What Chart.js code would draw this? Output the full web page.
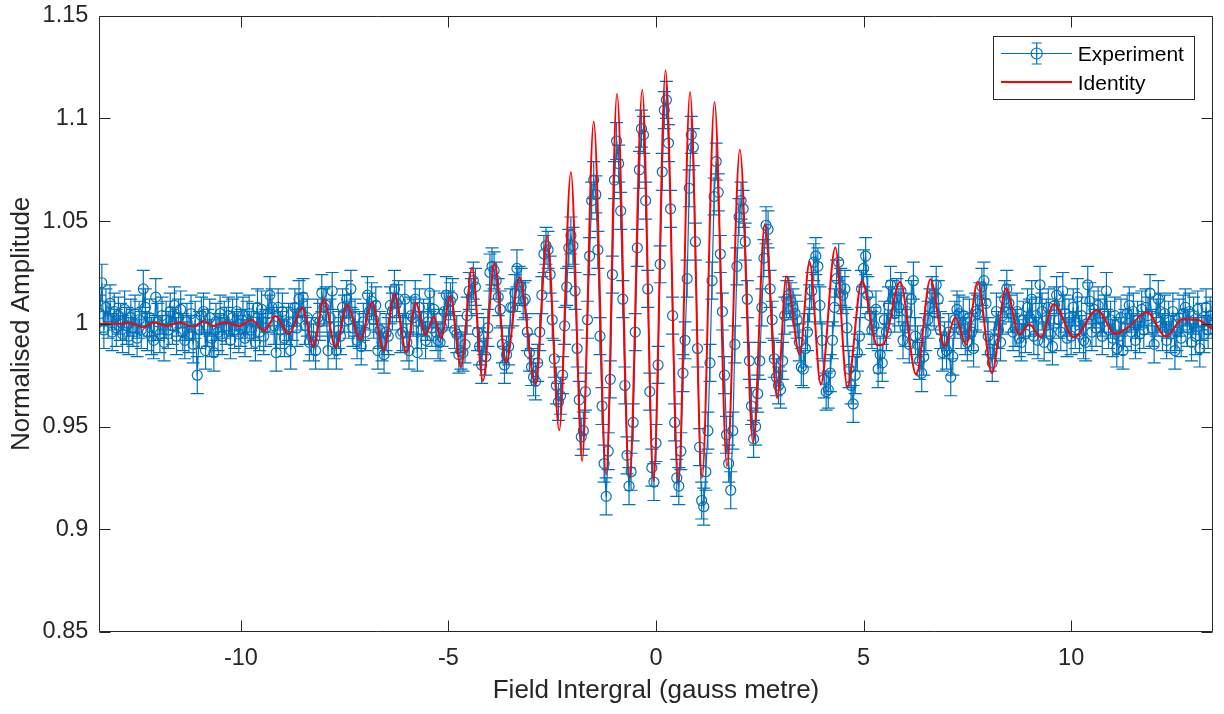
<!DOCTYPE html>
<html><head><meta charset="utf-8">
<script src="https://cdn.jsdelivr.net/npm/chart.js"></script>
<style>html,body{margin:0;padding:0;background:#fff;}canvas{display:block;}</style>
</head><body>
<canvas id="c" width="1224" height="714"></canvas>
<script>
// ---------------- DATA ----------------
const xTicks = [-10, -5, 0, 5, 10];
const xTickLabels = ['-10', '-5', '0', '5', '10'];
const yTicks = [0.85, 0.9, 0.95, 1, 1.05, 1.1, 1.15];
const yTickLabels = ['0.85', '0.9', '0.95', '1', '1.05', '1.1', '1.15'];
const xLimits = [-13.41, 13.41];
const yLimits = [0.85, 1.15];
const seriesNames = ['Experiment', 'Identity'];
const axisTitles = ['Field Intergral (gauss metre)', 'Normalised Amplitude'];
const expErr = 0.009;

const expX = [
-13.4,-13.35,-13.3,-13.25,-13.2,-13.15,-13.1,-13.05,-13,-12.95,
-12.9,-12.85,-12.8,-12.75,-12.7,-12.65,-12.6,-12.55,-12.5,-12.45,
-12.4,-12.35,-12.3,-12.25,-12.2,-12.15,-12.1,-12.05,-12,-11.95,
-11.9,-11.85,-11.8,-11.75,-11.7,-11.65,-11.6,-11.55,-11.5,-11.45,
-11.4,-11.35,-11.3,-11.25,-11.2,-11.15,-11.1,-11.05,-11,-10.95,
-10.9,-10.85,-10.8,-10.75,-10.7,-10.65,-10.6,-10.55,-10.5,-10.45,
-10.4,-10.35,-10.3,-10.25,-10.2,-10.15,-10.1,-10.05,-10,-9.95,
-9.9,-9.85,-9.8,-9.75,-9.7,-9.65,-9.6,-9.55,-9.5,-9.45,
-9.4,-9.35,-9.3,-9.25,-9.2,-9.15,-9.1,-9.05,-9,-8.95,
-8.9,-8.85,-8.8,-8.75,-8.7,-8.65,-8.6,-8.55,-8.5,-8.45,
-8.4,-8.35,-8.3,-8.25,-8.2,-8.15,-8.1,-8.05,-8,-7.95,
-7.9,-7.85,-7.8,-7.75,-7.7,-7.65,-7.6,-7.55,-7.5,-7.45,
-7.4,-7.35,-7.3,-7.25,-7.2,-7.15,-7.1,-7.05,-7,-6.95,
-6.9,-6.85,-6.8,-6.75,-6.7,-6.65,-6.6,-6.55,-6.5,-6.45,
-6.4,-6.35,-6.3,-6.25,-6.2,-6.15,-6.1,-6.05,-6,-5.95,
-5.9,-5.85,-5.8,-5.75,-5.7,-5.65,-5.6,-5.55,-5.5,-5.45,
-5.4,-5.35,-5.3,-5.25,-5.2,-5.15,-5.1,-5.05,-5,-4.95,
-4.9,-4.85,-4.8,-4.75,-4.7,-4.65,-4.6,-4.55,-4.5,-4.45,
-4.4,-4.35,-4.3,-4.25,-4.2,-4.15,-4.1,-4.05,-4,-3.95,
-3.9,-3.85,-3.8,-3.75,-3.7,-3.65,-3.6,-3.55,-3.5,-3.45,
-3.4,-3.35,-3.3,-3.25,-3.2,-3.15,-3.1,-3.05,-3,-2.95,
-2.9,-2.85,-2.8,-2.75,-2.7,-2.65,-2.6,-2.55,-2.5,-2.45,
-2.4,-2.35,-2.3,-2.25,-2.2,-2.15,-2.1,-2.05,-2,-1.95,
-1.9,-1.85,-1.8,-1.75,-1.7,-1.65,-1.6,-1.55,-1.5,-1.45,
-1.4,-1.35,-1.3,-1.25,-1.2,-1.15,-1.1,-1.05,-1,-0.95,
-0.9,-0.85,-0.8,-0.75,-0.7,-0.65,-0.6,-0.55,-0.5,-0.45,
-0.4,-0.35,-0.3,-0.25,-0.2,-0.15,-0.1,-0.05,0,0.05,
0.1,0.15,0.2,0.25,0.3,0.35,0.4,0.45,0.5,0.55,
0.6,0.65,0.7,0.75,0.8,0.85,0.9,0.95,1,1.05,
1.1,1.15,1.2,1.25,1.3,1.35,1.4,1.45,1.5,1.55,
1.6,1.65,1.7,1.75,1.8,1.85,1.9,1.95,2,2.05,
2.1,2.15,2.2,2.25,2.3,2.35,2.4,2.45,2.5,2.55,
2.6,2.65,2.7,2.75,2.8,2.85,2.9,2.95,3,3.05,
3.1,3.15,3.2,3.25,3.3,3.35,3.4,3.45,3.5,3.55,
3.6,3.65,3.7,3.75,3.8,3.85,3.9,3.95,4,4.05,
4.1,4.15,4.2,4.25,4.3,4.35,4.4,4.45,4.5,4.55,
4.6,4.65,4.7,4.75,4.8,4.85,4.9,4.95,5,5.05,
5.1,5.15,5.2,5.25,5.3,5.35,5.4,5.45,5.5,5.55,
5.6,5.65,5.7,5.75,5.8,5.85,5.9,5.95,6,6.05,
6.1,6.15,6.2,6.25,6.3,6.35,6.4,6.45,6.5,6.55,
6.6,6.65,6.7,6.75,6.8,6.85,6.9,6.95,7,7.05,
7.1,7.15,7.2,7.25,7.3,7.35,7.4,7.45,7.5,7.55,
7.6,7.65,7.7,7.75,7.8,7.85,7.9,7.95,8,8.05,
8.1,8.15,8.2,8.25,8.3,8.35,8.4,8.45,8.5,8.55,
8.6,8.65,8.7,8.75,8.8,8.85,8.9,8.95,9,9.05,
9.1,9.15,9.2,9.25,9.3,9.35,9.4,9.45,9.5,9.55,
9.6,9.65,9.7,9.75,9.8,9.85,9.9,9.95,10,10.05,
10.1,10.15,10.2,10.25,10.3,10.35,10.4,10.45,10.5,10.55,
10.6,10.65,10.7,10.75,10.8,10.85,10.9,10.95,11,11.05,
11.1,11.15,11.2,11.25,11.3,11.35,11.4,11.45,11.5,11.55,
11.6,11.65,11.7,11.75,11.8,11.85,11.9,11.95,12,12.05,
12.1,12.15,12.2,12.25,12.3,12.35,12.4,12.45,12.5,12.55,
12.6,12.65,12.7,12.75,12.8,12.85,12.9,12.95,13,13.05,
13.1,13.15,13.2,13.25,13.3,13.35,13.4
];

const expY = [
1.005,1.020,0.997,1.008,1.002,1.010,0.996,1.006,0.998,1.004,
1.001,0.995,1.007,0.999,0.994,1.003,0.998,1.005,0.993,1.002,
0.997,1.017,1.008,0.996,1.003,0.994,0.992,1.013,1.001,0.995,
1.004,0.991,1.002,0.997,1.006,0.999,1.009,0.994,1.003,1.007,
0.996,0.992,1.001,0.995,1.005,0.990,1.002,0.975,0.997,1.004,
1.006,0.987,0.998,1.003,0.993,0.986,1.001,0.996,1.005,0.994,
1.002,0.999,1.004,0.992,1.003,0.997,1.006,0.995,0.998,1.004,
0.993,1.002,1.005,0.997,1.001,0.991,1.008,0.996,1.007,0.994,
0.998,1.005,1.014,1.008,0.999,0.986,1.008,0.997,1.006,0.993,
0.999,1.001,0.987,1.001,1.008,0.998,1.012,1.006,1.013,0.999,
1.003,0.991,0.994,0.991,0.987,1.003,1.001,1.015,1.008,1.009,
0.987,1.003,1.016,0.992,0.987,0.997,0.994,1.008,1.005,1.012,
1.002,1.017,0.998,1.003,0.992,0.997,0.989,1.001,0.996,1.014,
1.006,1.011,1.002,1.009,0.987,0.997,0.991,0.985,0.996,0.994,
1.009,1.006,1.017,1.010,1.012,0.995,0.996,1.012,0.991,0.987,
1.004,1.003,1.012,0.986,1.008,0.997,1.003,0.992,1.001,1.015,
0.998,1.007,0.996,0.992,0.991,0.998,1.006,1.014,1.007,1.011,
1.013,0.997,0.995,0.985,0.987,0.986,0.990,1.004,1.016,1.013,
1.021,1.018,0.996,0.989,0.980,0.994,0.984,0.998,1.025,1.028,
1.026,1.021,1.013,1.007,0.990,0.980,0.985,0.989,1.008,1.008,
1.015,1.027,1.019,1.018,1.011,1.012,0.996,0.986,0.979,0.974,
0.972,0.981,0.996,1.014,1.034,1.038,1.036,1.024,1.002,0.983,
0.970,0.962,0.965,0.975,0.999,1.018,1.037,1.043,1.038,1.016,
0.988,0.963,0.945,0.948,0.967,1.002,1.033,1.060,1.070,1.063,
1.036,0.994,0.960,0.932,0.916,0.938,0.973,1.024,1.070,1.089,
1.078,1.055,1.012,0.970,0.936,0.921,0.928,0.952,0.996,1.037,
1.075,1.095,1.092,1.060,1.017,0.967,0.930,0.923,0.942,0.980,
1.029,1.074,1.104,1.109,1.088,1.056,1.004,0.952,0.925,0.921,
0.938,0.976,0.992,1.022,1.066,1.092,1.086,1.040,0.988,0.940,
0.914,0.911,0.928,0.948,0.981,1.021,1.062,1.079,1.064,1.034,
1.006,0.975,0.946,0.932,0.919,0.948,0.990,1.028,1.052,1.060,
1.056,1.040,1.012,0.982,0.960,0.944,0.950,0.966,0.982,1.008,
1.032,1.048,1.046,1.017,1.002,0.983,0.974,0.970,0.968,0.982,
1.004,1.012,1.014,1.011,1.008,1.005,1.002,0.991,0.979,0.978,
0.988,0.996,1.010,1.016,1.030,1.033,1.028,1.009,0.992,0.973,
0.967,0.968,0.976,0.992,1.008,1.022,1.030,1.018,1.014,1.017,
0.998,0.978,0.970,0.961,0.975,0.986,0.994,1.017,1.027,1.033,
1.014,1.004,0.997,0.999,1.007,0.978,0.985,0.981,1.002,0.996,
1.009,1.019,1.012,1.005,1.013,1.008,1.016,0.992,0.998,1.006,
0.990,1.012,1.021,0.994,0.990,0.982,0.976,0.984,0.996,1.002,
1.008,1.014,1.006,1.019,1.012,0.997,0.986,0.992,0.987,0.996,
0.974,0.984,1.002,1.007,1.005,0.997,1.004,0.994,0.991,1.003,
0.996,0.988,1.006,1.005,1.011,1.018,1.021,1.010,0.994,0.986,
0.981,0.992,1.006,0.997,0.991,1.004,1.012,1.017,1.010,1.005,
0.996,0.998,1.006,0.993,0.991,1.002,0.995,1.008,1.003,1.012,
0.994,1.004,0.992,1.019,1.006,0.991,1.003,1.008,0.995,0.989,
1.009,1.014,1.002,0.996,1.016,1.005,0.993,1.003,0.994,1.008,
0.997,1.013,0.995,1.004,0.992,0.991,1.019,1.011,0.996,1.007,
0.998,1.009,1.003,0.994,1.005,1.016,0.997,1.002,0.993,1.004,
0.988,0.994,1.003,0.987,0.998,1.005,1.009,0.996,1.006,0.992,
1.002,0.995,1.007,0.997,1.008,1.004,1.015,0.998,0.990,1.003,
1.012,1.006,0.996,1.005,0.992,1.002,0.995,1.006,0.987,0.996,
1.003,0.993,1.005,1.008,0.998,1.006,0.991,1.004,0.994,1.007,
0.988,1.001,0.995,1.008,0.997,1.004,1.002
];

const identityX = [-13.41,-13.0,-12.7,-12.36,-12.08,-11.80,-11.48,-11.16,-10.88,-10.68,-10.40,-10.04,-9.74,-9.44,-9.17,-8.84,-8.52,-8.25,-8.00,-7.72,-7.44,-7.12,-6.84,-6.56,-6.30,-6.01,-5.79,-5.55,-5.35,-5.18,-4.95,-4.70,-4.43,-4.17,-3.89,-3.61,-3.29,-2.90,-2.62,-2.33,-2.05,-1.78,-1.50,-1.20,-0.94,-0.64,-0.33,-0.06,0.23,0.54,0.82,1.11,1.41,1.71,2.02,2.34,2.62,2.92,3.14,3.46,3.70,3.97,4.32,4.61,4.96,5.33,5.48,5.88,6.27,6.61,6.95,7.21,7.47,7.75,8.09,8.43,8.75,8.99,9.27,9.58,10.07,10.62,11.07,11.39,11.83,12.28,12.68,13.04,13.41];
const identityY = [1.000,1.000,1.0004,0.9984,1.0006,0.999,1.0006,0.9987,1.0011,0.999,1.0006,0.999,1.0019,0.9966,1.0038,0.9951,1.0079,0.989,1.012,0.9885,1.0092,0.9922,1.0103,0.9869,1.0144,0.9861,1.0103,0.9947,1.0036,0.993,1.0136,0.979,1.0273,0.9723,1.0295,0.981,1.0227,0.9704,1.0426,0.9482,1.0739,0.9332,1.0985,0.9267,1.112,0.925,1.114,0.9234,1.1233,0.9234,1.1128,0.925,1.108,0.9307,1.0848,0.942,1.0485,0.9639,1.023,0.985,1.0302,0.9704,1.0372,0.9693,1.0209,0.9895,0.9902,1.0205,0.9752,1.0217,0.989,1.0032,0.9898,1.0205,0.976,1.0173,0.9947,0.9998,0.9935,1.0096,0.9934,1.0068,0.9951,0.9987,1.0057,0.9938,1.0022,1.002,0.9974];

// ---------------- STYLE ----------------
const FONT = '"Liberation Sans", Arial, Helvetica, sans-serif';
const BLUE = '#0072BD';
const RED = '#FF0000';
const AXIS = '#262626';

const expPoints = expX.map((x, i) => ({x: x, y: expY[i]}));
const idPoints = identityX.map((x, i) => ({x: x, y: identityY[i]}));

const errorBarPlugin = {
  id: 'errorBars',
  beforeDatasetsDraw(chart) {
    const {ctx, chartArea: a, scales: {x, y}} = chart;
    const cap = 6.5;
    ctx.save();
    ctx.beginPath(); ctx.rect(a.left, a.top, a.right - a.left, a.bottom - a.top); ctx.clip();
    ctx.strokeStyle = BLUE; ctx.lineWidth = 1.2;
    ctx.beginPath();
    for (let i = 0; i < expX.length; i++) {
      const px = x.getPixelForValue(expX[i]);
      const t = y.getPixelForValue(expY[i] + expErr);
      const b = y.getPixelForValue(expY[i] - expErr);
      ctx.moveTo(px, t); ctx.lineTo(px, b);
      ctx.moveTo(px - cap, t); ctx.lineTo(px + cap, t);
      ctx.moveTo(px - cap, b); ctx.lineTo(px + cap, b);
    }
    ctx.stroke();
    ctx.restore();
  }
};

const framePlugin = {
  id: 'frame',
  afterDraw(chart) {
    const {ctx, chartArea: a, scales: {x, y}} = chart;
    const tl = 11;
    ctx.save();
    ctx.strokeStyle = AXIS; ctx.lineWidth = 1;
    ctx.beginPath();
    const L = Math.round(a.left) + 0.5, R = Math.round(a.right) - 0.5;
    const T = Math.round(a.top) + 0.5, B = Math.round(a.bottom) - 0.5;
    ctx.rect(L, T, R - L, B - T);
    xTicks.forEach(v => {
      const p = Math.round(x.getPixelForValue(v)) + 0.5;
      ctx.moveTo(p, B); ctx.lineTo(p, B - tl);
      ctx.moveTo(p, T); ctx.lineTo(p, T + tl);
    });
    yTicks.forEach(v => {
      const p = Math.round(y.getPixelForValue(v)) + 0.5;
      ctx.moveTo(L, p); ctx.lineTo(L + tl, p);
      ctx.moveTo(R, p); ctx.lineTo(R - tl, p);
    });
    ctx.stroke();

    // legend
    const bx = 993.5, by = 36.5, bw = 201, bh = 63;
    ctx.fillStyle = '#ffffff';
    ctx.fillRect(bx, by, bw, bh);
    ctx.strokeStyle = AXIS; ctx.lineWidth = 1;
    ctx.strokeRect(bx, by, bw, bh);
    const lx0 = 1001, lx1 = 1072, cx = 1036.7;
    const y1 = 53.5, y2 = 82;
    ctx.strokeStyle = BLUE; ctx.lineWidth = 1.2;
    ctx.beginPath();
    ctx.moveTo(lx0, y1); ctx.lineTo(lx1, y1);
    ctx.moveTo(cx, 43); ctx.lineTo(cx, 64);
    ctx.moveTo(cx - 5, 43); ctx.lineTo(cx + 5, 43);
    ctx.moveTo(cx - 5, 64); ctx.lineTo(cx + 5, 64);
    ctx.stroke();
    ctx.beginPath(); ctx.arc(cx, y1, 5.5, 0, Math.PI * 2); ctx.stroke();
    ctx.strokeStyle = RED; ctx.lineWidth = 2;
    ctx.beginPath(); ctx.moveTo(lx0, y2); ctx.lineTo(lx1, y2); ctx.stroke();
    ctx.fillStyle = '#000000';
    ctx.font = '21px ' + FONT;
    ctx.textAlign = 'left'; ctx.textBaseline = 'alphabetic';
    ctx.fillText(seriesNames[0], 1077.7, 60.5);
    ctx.fillText(seriesNames[1], 1077.7, 89.5);
    ctx.restore();
  }
};

new Chart(document.getElementById('c'), {
  type: 'scatter',
  data: {
    datasets: [
      {
        label: seriesNames[0], data: expPoints, showLine: true,
        borderColor: BLUE, borderWidth: 1.2, tension: 0,
        pointRadius: 5, pointBorderColor: BLUE, pointBorderWidth: 1.2,
        pointBackgroundColor: 'rgba(0,0,0,0)', pointHoverRadius: 5, order: 2
      },
      {
        label: seriesNames[1], data: idPoints, showLine: true,
        borderColor: RED, borderWidth: 2, pointRadius: 0, pointHoverRadius: 0,
        cubicInterpolationMode: 'monotone', order: 1
      }
    ]
  },
  options: {
    responsive: false, animation: false, devicePixelRatio: 1,
    layout: {padding: {left: 0, right: 11.3, top: 15.7, bottom: 0}},
    plugins: {legend: {display: false}, tooltip: {enabled: false}},
    events: [],
    scales: {
      x: {
        type: 'linear', min: xLimits[0], max: xLimits[1],
        grid: {display: false, drawTicks: false}, border: {display: false},
        afterBuildTicks: s => { s.ticks = xTicks.map(v => ({value: v})); },
        afterFit: s => { s.height = 82; s.paddingLeft = 0; s.paddingRight = 0; },
        ticks: {
          callback: (v, i) => xTickLabels[i], color: AXIS, padding: 12.2,
          font: {family: FONT, size: 23.5}, maxRotation: 0, autoSkip: false
        },
        title: {display: true, text: axisTitles[0], color: AXIS,
          font: {family: FONT, size: 26}, padding: {top: 0, bottom: 7.4}}
      },
      y: {
        type: 'linear', min: yLimits[0], max: yLimits[1],
        grid: {display: false, drawTicks: false}, border: {display: false},
        afterBuildTicks: s => { s.ticks = yTicks.map(v => ({value: v})); },
        afterFit: s => { s.width = 99.3; s.paddingTop = 0; s.paddingBottom = 0; },
        ticks: {
          callback: (v, i) => yTickLabels[i], color: AXIS, padding: 11,
          font: {family: FONT, size: 23.5}, autoSkip: false
        },
        title: {display: true, text: axisTitles[1], color: AXIS,
          font: {family: FONT, size: 26}, padding: {top: 6.4, bottom: 0}}
      }
    }
  },
  plugins: [errorBarPlugin, framePlugin]
});
</script>
</body></html>
